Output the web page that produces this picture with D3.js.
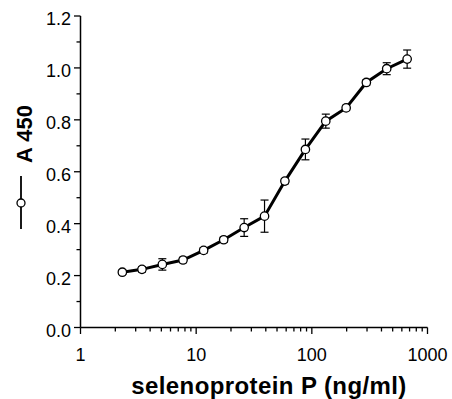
<!DOCTYPE html>
<html>
<head>
<meta charset="utf-8">
<script src="https://cdn.jsdelivr.net/npm/d3@7"></script>
<style>
  body { margin: 0; background: #fff; }
  svg { display: block; font-family: "Liberation Sans", Arial, Helvetica, sans-serif; }
</style>
</head>
<body>
<svg id="chart"></svg>
<script>
const width = 452, height = 399;

// selenoprotein P concentration (ng/ml), 1.5-fold dilution series
const conc = [2.3, 3.4, 5.1, 7.7, 11.6, 17.3, 26, 39, 58.5, 88, 132, 198, 296, 444, 667];
// mean A450
const a450 = [0.213, 0.224, 0.243, 0.260, 0.297, 0.338, 0.385, 0.429, 0.564, 0.686, 0.795, 0.846, 0.944, 0.997, 1.034];
// error (SD)
const sd = [0.008, 0.010, 0.022, 0.010, 0.010, 0.010, 0.034, 0.062, 0.010, 0.040, 0.027, 0.010, 0.010, 0.023, 0.035];

const yTicks = [0, 0.2, 0.4, 0.6, 0.8, 1.0, 1.2];
const xTicks = [1, 10, 100, 1000];

const data = conc.map((c, i) => ({x: c, y: a450[i], e: sd[i]}));

const svg = d3.select("#chart")
  .attr("width", width)
  .attr("height", height);

const x = d3.scaleLog()
  .domain([1, 1000])
  .range([80.5, 427.5]);

const y = d3.scaleLinear()
  .domain([0, 1.2])
  .range([327.5, 16]);

// y axis
const yAxis = svg.append("g");
yAxis.append("line")
  .attr("x1", x(1)).attr("x2", x(1))
  .attr("y1", y(1.2)).attr("y2", y(0))
  .attr("stroke", "#000").attr("stroke-width", 1.5);
// minor ticks every 0.1
yAxis.selectAll("line.minor")
  .data(d3.range(1, 12, 2).map(d => d / 10))
  .enter().append("line")
  .attr("class", "minor")
  .attr("x1", x(1) - 4).attr("x2", x(1))
  .attr("y1", d => y(d)).attr("y2", d => y(d))
  .attr("stroke", "#000").attr("stroke-width", 1.3);
yAxis.selectAll("line.major")
  .data(yTicks)
  .enter().append("line")
  .attr("class", "major")
  .attr("x1", x(1) - 6.5).attr("x2", x(1))
  .attr("y1", d => y(d)).attr("y2", d => y(d))
  .attr("stroke", "#000").attr("stroke-width", 1.3);
yAxis.selectAll("text")
  .data(yTicks)
  .enter().append("text")
  .attr("x", 71)
  .attr("y", d => y(d) + 9)
  .attr("text-anchor", "end")
  .attr("font-size", 18)
  .text(d3.format(".1f"));

// x axis
const xAxis = svg.append("g");
xAxis.append("line")
  .attr("x1", x(1)).attr("x2", x(1000))
  .attr("y1", y(0)).attr("y2", y(0))
  .attr("stroke", "#000").attr("stroke-width", 1.5);
const minorX = [];
[1, 10, 100].forEach(dec => { for (let k = 2; k <= 9; k++) minorX.push(dec * k); });
xAxis.selectAll("line.minor")
  .data(minorX)
  .enter().append("line")
  .attr("class", "minor")
  .attr("x1", d => x(d)).attr("x2", d => x(d))
  .attr("y1", y(0)).attr("y2", y(0) + 4)
  .attr("stroke", "#000").attr("stroke-width", 1.3);
xAxis.selectAll("line.major")
  .data(xTicks)
  .enter().append("line")
  .attr("class", "major")
  .attr("x1", d => x(d)).attr("x2", d => x(d))
  .attr("y1", y(0)).attr("y2", y(0) + 6.5)
  .attr("stroke", "#000").attr("stroke-width", 1.3);
xAxis.selectAll("text")
  .data(xTicks)
  .enter().append("text")
  .attr("x", d => x(d))
  .attr("y", 361)
  .attr("text-anchor", "middle")
  .attr("font-size", 18)
  .text(d => d);

// axis titles
svg.append("text")
  .attr("x", 269)
  .attr("y", 394)
  .attr("text-anchor", "middle")
  .attr("font-size", 24)
  .attr("font-weight", "bold")
  .attr("letter-spacing", 0.4)
  .text("selenoprotein P (ng/ml)");

svg.append("text")
  .attr("transform", "translate(32,134) rotate(-90)")
  .attr("text-anchor", "middle")
  .attr("font-size", 22)
  .attr("font-weight", "bold")
  .text("A 450");

// legend symbol next to the y title
svg.append("line")
  .attr("x1", 21).attr("x2", 21)
  .attr("y1", 176).attr("y2", 229)
  .attr("stroke", "#000").attr("stroke-width", 1.8);
svg.append("circle")
  .attr("cx", 21).attr("cy", 203).attr("r", 4)
  .attr("fill", "#fff").attr("stroke", "#000").attr("stroke-width", 1.3);

// error bars
const eb = svg.append("g").attr("stroke", "#000").attr("stroke-width", 1.2);
eb.selectAll("line.v")
  .data(data)
  .enter().append("line")
  .attr("class", "v")
  .attr("x1", d => x(d.x)).attr("x2", d => x(d.x))
  .attr("y1", d => y(d.y - d.e)).attr("y2", d => y(d.y + d.e));
eb.selectAll("line.top")
  .data(data)
  .enter().append("line")
  .attr("class", "top")
  .attr("x1", d => x(d.x) - 4).attr("x2", d => x(d.x) + 4)
  .attr("y1", d => y(d.y + d.e)).attr("y2", d => y(d.y + d.e));
eb.selectAll("line.bot")
  .data(data)
  .enter().append("line")
  .attr("class", "bot")
  .attr("x1", d => x(d.x) - 4).attr("x2", d => x(d.x) + 4)
  .attr("y1", d => y(d.y - d.e)).attr("y2", d => y(d.y - d.e));

// curve
svg.append("path")
  .datum(data)
  .attr("fill", "none")
  .attr("stroke", "#000")
  .attr("stroke-width", 3)
  .attr("d", d3.line().x(d => x(d.x)).y(d => y(d.y)));

// points
svg.selectAll("circle.pt")
  .data(data)
  .enter().append("circle")
  .attr("class", "pt")
  .attr("cx", d => x(d.x))
  .attr("cy", d => y(d.y))
  .attr("r", 4.2)
  .attr("fill", "#fff")
  .attr("stroke", "#000")
  .attr("stroke-width", 1.3);
</script>
</body>
</html>
